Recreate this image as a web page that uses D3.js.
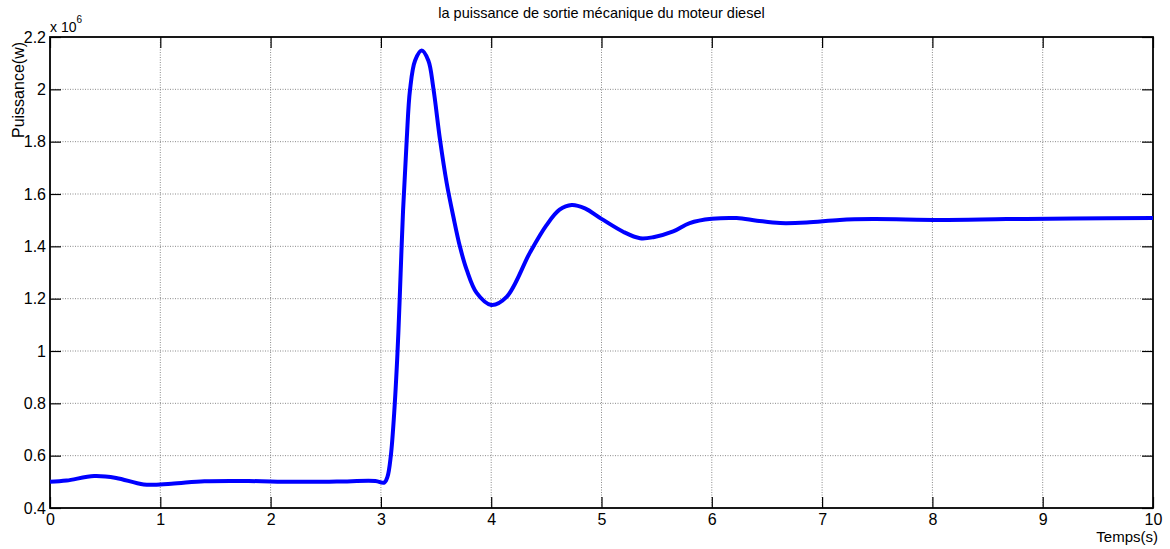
<!DOCTYPE html>
<html>
<head>
<meta charset="utf-8">
<script src="https://cdn.jsdelivr.net/npm/d3@7"></script>
<style>
  body { margin: 0; background: #fff; }
  svg text { font-family: "Liberation Sans", Arial, sans-serif; fill: #000; }
  svg text.narrow { font-family: "Liberation Sans Narrow", "Liberation Sans", Arial, sans-serif; }
</style>
</head>
<body>
<div id="chart"></div>
<script>
// values (time in s, power in units of 1e6 W)
const time = [0, 0.15, 0.4, 0.6, 0.85, 1.1, 1.4, 1.8, 2.2, 2.6, 2.95, 3.03, 3.06, 3.09, 3.12, 3.15, 3.17, 3.20,
  3.234, 3.264, 3.31, 3.37, 3.43, 3.475, 3.536, 3.596, 3.657, 3.717, 3.778, 3.868, 4.0, 4.14, 4.35, 4.5, 4.62,
  4.73, 4.85, 5.0, 5.2, 5.35, 5.47, 5.65, 5.8, 6.0, 6.225, 6.41, 6.62, 6.86, 7.16, 7.46, 8.07, 8.67, 9.28, 10];
const puissance = [0.50, 0.505, 0.522, 0.515, 0.49, 0.493, 0.502, 0.503, 0.500, 0.501, 0.503, 0.497, 0.52, 0.60,
  0.76, 0.99, 1.195, 1.528, 1.807, 1.998, 2.11, 2.148, 2.11, 2.006, 1.807, 1.643, 1.513, 1.398, 1.31, 1.222, 1.176,
  1.207, 1.375, 1.48, 1.54, 1.558, 1.545, 1.505, 1.455, 1.431, 1.435, 1.457, 1.489, 1.505, 1.508, 1.498, 1.489,
  1.491, 1.501, 1.504, 1.501, 1.504, 1.506, 1.508];
const xTicks = [0, 1, 2, 3, 4, 5, 6, 7, 8, 9, 10];
const yTicks = [0.4, 0.6, 0.8, 1, 1.2, 1.4, 1.6, 1.8, 2, 2.2];

const width = 1170, height = 549;
const margin = { top: 37, right: 17, bottom: 41, left: 50 };
const innerWidth = width - margin.left - margin.right;
const innerHeight = height - margin.top - margin.bottom;

const svg = d3.select("#chart").append("svg")
  .attr("width", width)
  .attr("height", height);

const g = svg.append("g")
  .attr("transform", "translate(" + margin.left + "," + margin.top + ")");

const x = d3.scaleLinear().domain([0, 10]).range([0, innerWidth]);
const y = d3.scaleLinear().domain([0.4, 2.2]).range([innerHeight, 0]);

// grid
g.append("g").selectAll("line")
  .data(xTicks.slice(1, -1))
  .enter().append("line")
  .attr("x1", d => x(d)).attr("x2", d => x(d))
  .attr("y1", 0).attr("y2", innerHeight)
  .attr("stroke", "#8a8a8a").attr("stroke-dasharray", "1,1.5");
g.append("g").selectAll("line")
  .data(yTicks.slice(1, -1))
  .enter().append("line")
  .attr("y1", d => y(d)).attr("y2", d => y(d))
  .attr("x1", 0).attr("x2", innerWidth)
  .attr("stroke", "#8a8a8a").attr("stroke-dasharray", "1,1.5");

// axes (MATLAB style, ticks pointing in, on all four sides)
const tickLen = 11;
const axisStyle = sel => {
  sel.select(".domain").remove();
  sel.selectAll(".tick line").attr("stroke", "#000").attr("stroke-width", 1.2);
  sel.selectAll(".tick text").style("font-size", "16px");
};
const noText = sel => sel.selectAll(".tick text").remove();
g.append("g")
  .attr("transform", "translate(0," + innerHeight + ")")
  .call(d3.axisBottom(x).tickValues(xTicks).tickSize(-tickLen).tickPadding(6).tickFormat(d3.format("d")))
  .call(axisStyle);
g.append("g")
  .call(d3.axisTop(x).tickValues(xTicks).tickSize(-tickLen))
  .call(axisStyle).call(noText);
g.append("g")
  .call(d3.axisLeft(y).tickValues(yTicks).tickSize(-tickLen).tickPadding(4).tickFormat(d3.format("~g")))
  .call(axisStyle);
g.append("g")
  .attr("transform", "translate(" + innerWidth + ",0)")
  .call(d3.axisRight(y).tickValues(yTicks).tickSize(-tickLen))
  .call(axisStyle).call(noText);

g.append("rect")
  .attr("width", innerWidth).attr("height", innerHeight)
  .attr("fill", "none").attr("stroke", "#000").attr("stroke-width", 1.8);

// the curve
const data = time.map((t, i) => ({ t: t, p: puissance[i] }));
const line = d3.line()
  .x(d => x(d.t))
  .y(d => y(d.p))
  .curve(d3.curveCatmullRom.alpha(0.5));
g.append("path")
  .datum(data)
  .attr("fill", "none")
  .attr("stroke", "#0000ff")
  .attr("stroke-width", 4)
  .attr("stroke-linejoin", "round")
  .attr("d", line);

// texts
svg.append("text")
  .attr("class", "narrow")
  .attr("x", margin.left + innerWidth / 2)
  .attr("y", 18)
  .attr("text-anchor", "middle")
  .style("font-size", "14.5px")
  .text("la puissance de sortie mécanique du moteur diesel");

const mult = svg.append("text")
  .attr("x", 50)
  .attr("y", 32)
  .style("font-size", "14px")
  .text("x 10");
mult.append("tspan")
  .attr("dy", -9)
  .style("font-size", "10px")
  .text("6");

svg.append("text")
  .attr("transform", "translate(24,90) rotate(-90)")
  .attr("text-anchor", "middle")
  .style("font-size", "16px")
  .text("Puissance(w)");

svg.append("text")
  .attr("class", "narrow")
  .attr("x", 1158)
  .attr("y", 542)
  .attr("text-anchor", "end")
  .style("font-size", "15px")
  .text("Temps(s)");
</script>
</body>
</html>
